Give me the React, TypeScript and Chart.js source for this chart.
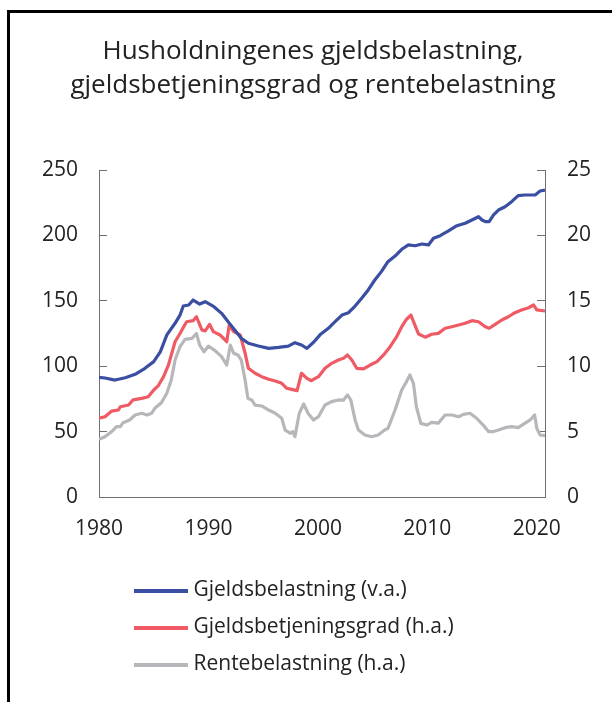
import React, { useEffect, useRef } from 'react';
import { Chart, registerables } from 'chart.js';

Chart.register(...registerables);

const titleLines = ['Husholdningenes gjeldsbelastning,', 'gjeldsbetjeningsgrad og rentebelastning'];
const seriesLabels = ['Gjeldsbelastning (v.a.)', 'Gjeldsbetjeningsgrad (h.a.)', 'Rentebelastning (h.a.)'];
const seriesColors = ['#3a4ea2', '#ef5a64', '#b7b7bb'];
const xTicks = [1980, 1990, 2000, 2010, 2020];
const leftTicks = [0, 50, 100, 150, 200, 250];
const rightTicks = [0, 5, 10, 15, 20, 25];

// Gjeldsbelastning (left axis, per cent)
const debtYears = [1980.0, 1980.55, 1981.46, 1982.4, 1983.3, 1984.2, 1985.0, 1985.6, 1986.2, 1986.95, 1987.4, 1987.7, 1988.2, 1988.6, 1989.2, 1989.7, 1990.5, 1991.2, 1991.8, 1992.4, 1993.0, 1993.65, 1994.56, 1995.5, 1996.4, 1997.3, 1997.9, 1998.5, 1999.0, 1999.65, 2000.25, 2000.96, 2001.57, 2002.2, 2002.8, 2003.4, 2004.0, 2004.6, 2005.2, 2005.8, 2006.4, 2007.05, 2007.66, 2008.27, 2008.88, 2009.5, 2010.1, 2010.56, 2011.17, 2011.93, 2012.7, 2013.46, 2014.07, 2014.67, 2015.0, 2015.3, 2015.65, 2016.05, 2016.5, 2017.1, 2017.7, 2018.3, 2018.9, 2019.4, 2019.85, 2020.3, 2020.75];
const debtValues = [91.5, 91, 89.4, 91.2, 93.8, 98.4, 103.5, 111, 124, 132.8, 139, 146, 146.8, 150.6, 147.5, 149.3, 145.5, 140.4, 134, 127.7, 121.3, 117.5, 115.4, 113.6, 114.4, 115.4, 118, 116.2, 113.6, 118.7, 124.5, 129, 134, 139.1, 140.9, 146, 151.9, 158.3, 165.9, 172.3, 179.9, 184.2, 189.4, 192.7, 192.1, 193.4, 192.7, 197.8, 199.8, 203.4, 207.4, 209.3, 211.8, 214.3, 211.8, 210.5, 210.5, 215.6, 219.4, 221.9, 225.8, 230.4, 230.9, 230.9, 230.9, 233.9, 234.7];

// Gjeldsbetjeningsgrad (right axis, per cent)
const serviceYears = [1980.0, 1980.55, 1981.16, 1981.76, 1981.95, 1982.7, 1983.1, 1983.9, 1984.5, 1985.0, 1985.4, 1985.9, 1986.35, 1986.95, 1987.4, 1988.0, 1988.6, 1988.9, 1989.4, 1989.7, 1990.1, 1990.45, 1991.06, 1991.67, 1991.9, 1992.3, 1992.9, 1993.35, 1993.65, 1994.26, 1994.87, 1995.5, 1996.1, 1996.7, 1997.15, 1997.6, 1998.1, 1998.5, 1999.0, 1999.4, 2000.05, 2000.65, 2001.26, 2001.87, 2002.33, 2002.7, 2003.1, 2003.55, 2004.16, 2004.77, 2005.4, 2006.0, 2006.6, 2007.2, 2007.66, 2008.1, 2008.5, 2008.8, 2009.2, 2009.8, 2010.4, 2011.0, 2011.63, 2012.24, 2012.85, 2013.46, 2014.07, 2014.67, 2015.3, 2015.65, 2016.2, 2016.8, 2017.4, 2018.0, 2018.6, 2019.25, 2019.7, 2020.0, 2020.75];
const serviceValues = [6.02, 6.14, 6.57, 6.65, 6.9, 7.03, 7.42, 7.54, 7.67, 8.18, 8.49, 9.2, 10.1, 11.87, 12.5, 13.4, 13.48, 13.78, 12.77, 12.7, 13.2, 12.64, 12.39, 11.87, 13.15, 12.64, 12.39, 10.99, 9.84, 9.46, 9.2, 9.0, 8.87, 8.69, 8.31, 8.23, 8.13, 9.46, 9.07, 8.89, 9.2, 9.84, 10.22, 10.47, 10.6, 10.86, 10.47, 9.84, 9.79, 10.09, 10.35, 10.86, 11.49, 12.26, 13.02, 13.59, 13.91, 13.28, 12.46, 12.22, 12.44, 12.51, 12.9, 13.02, 13.15, 13.28, 13.48, 13.4, 13.02, 12.9, 13.2, 13.53, 13.78, 14.09, 14.3, 14.47, 14.68, 14.3, 14.22];

// Rentebelastning (right axis, per cent)
const interestYears = [1980.0, 1980.55, 1981.16, 1981.6, 1981.95, 1982.2, 1982.8, 1983.3, 1983.9, 1984.4, 1984.8, 1985.1, 1985.7, 1986.2, 1986.6, 1986.95, 1987.4, 1987.86, 1988.5, 1988.9, 1989.2, 1989.6, 1990.0, 1990.6, 1991.2, 1991.67, 1992.0, 1992.3, 1992.7, 1993.0, 1993.35, 1993.6, 1993.95, 1994.26, 1994.87, 1995.5, 1996.1, 1996.7, 1997.0, 1997.5, 1997.7, 1997.9, 1998.3, 1998.7, 1999.1, 1999.6, 2000.05, 2000.65, 2001.26, 2001.87, 2002.33, 2002.7, 2003.0, 2003.4, 2003.7, 2004.3, 2004.9, 2005.5, 2006.1, 2006.4, 2007.05, 2007.66, 2008.1, 2008.4, 2008.73, 2009.0, 2009.4, 2009.95, 2010.4, 2011.0, 2011.63, 2012.24, 2012.85, 2013.3, 2013.9, 2014.5, 2015.1, 2015.6, 2016.05, 2016.5, 2017.1, 2017.7, 2018.3, 2018.9, 2019.4, 2019.8, 2020.0, 2020.3, 2020.75];
const interestValues = [4.41, 4.61, 5.0, 5.38, 5.38, 5.68, 5.89, 6.27, 6.4, 6.27, 6.4, 6.78, 7.21, 7.93, 8.94, 10.47, 11.49, 12.05, 12.13, 12.5, 11.62, 11.1, 11.54, 11.19, 10.73, 10.09, 11.62, 10.99, 10.86, 10.47, 8.94, 7.54, 7.42, 7.03, 6.96, 6.65, 6.4, 6.02, 5.12, 4.87, 5.0, 4.61, 6.4, 7.11, 6.4, 5.89, 6.14, 7.03, 7.29, 7.42, 7.4, 7.8, 7.42, 5.89, 5.12, 4.74, 4.61, 4.74, 5.12, 5.25, 6.65, 8.18, 8.82, 9.33, 8.69, 6.9, 5.63, 5.5, 5.71, 5.65, 6.27, 6.27, 6.14, 6.32, 6.4, 6.02, 5.5, 5.0, 5.0, 5.12, 5.3, 5.38, 5.3, 5.63, 5.89, 6.27, 5.25, 4.74, 4.69];

const FONT = "'Open Sans', 'Noto Sans', sans-serif";
const TEXT = '#222222';
const AXIS = '#707070';

function toPoints(xs: number[], ys: number[]) {
  return xs.map((x, i) => ({ x, y: ys[i] }));
}

function swatch(color: string) {
  const c = document.createElement('canvas');
  c.width = 54;
  c.height = 4;
  const g = c.getContext('2d');
  if (g) {
    g.fillStyle = color;
    g.fillRect(0, 0, 54, 4);
  }
  return c;
}

const shiftPlugin = {
  id: 'shiftBoxes',
  afterLayout(chart: any) {
    const lg = chart.legend;
    if (lg) {
      lg.left += 24;
      lg.right += 24;
    }
    const tb = chart.titleBlock;
    if (tb) {
      tb.left += 7;
      tb.right += 7;
    }
  },
};

export default function App() {
  const ref = useRef<HTMLCanvasElement | null>(null);

  useEffect(() => {
    if (!ref.current) return;
    const chart = new Chart(ref.current, {
      type: 'line',
      data: {
        datasets: [
          {
            label: seriesLabels[0],
            data: toPoints(debtYears, debtValues),
            borderColor: seriesColors[0],
            backgroundColor: seriesColors[0],
            borderWidth: 3.2,
            pointRadius: 0,
            tension: 0,
            borderJoinStyle: 'round',
            yAxisID: 'yLeft',
          },
          {
            label: seriesLabels[1],
            data: toPoints(serviceYears, serviceValues),
            borderColor: seriesColors[1],
            backgroundColor: seriesColors[1],
            borderWidth: 3.2,
            pointRadius: 0,
            tension: 0,
            borderJoinStyle: 'round',
            yAxisID: 'yRight',
          },
          {
            label: seriesLabels[2],
            data: toPoints(interestYears, interestValues),
            borderColor: seriesColors[2],
            backgroundColor: seriesColors[2],
            borderWidth: 3.2,
            pointRadius: 0,
            tension: 0,
            borderJoinStyle: 'round',
            yAxisID: 'yRight',
          },
        ],
      },
      options: {
        responsive: false,
        animation: false,
        devicePixelRatio: 1,
        layout: { padding: { left: 0, right: 0, top: 0, bottom: 17 } },
        plugins: {
          title: {
            display: true,
            text: titleLines,
            color: TEXT,
            font: { family: FONT, size: 26, weight: 'normal', lineHeight: '34px' },
            padding: { top: 35, bottom: 67 },
          },
          legend: {
            display: true,
            position: 'bottom',
            align: 'start',
            fullSize: false,
            labels: {
              usePointStyle: true,
              pointStyleWidth: 44,
              padding: 16,
              color: TEXT,
              font: { family: FONT, size: 21 },
              generateLabels: (c: any) =>
                c.data.datasets.map((ds: any, i: number) => ({
                  text: ds.label,
                  fillStyle: ds.borderColor,
                  strokeStyle: ds.borderColor,
                  lineWidth: 0,
                  pointStyle: swatch(ds.borderColor),
                  hidden: false,
                  datasetIndex: i,
                  fontColor: TEXT,
                })),
            },
          },
          tooltip: { enabled: false },
        },
        scales: {
          x: {
            type: 'linear',
            min: 1980,
            max: 2020.75,
            afterFit: (s: any) => {
              s.height = 67;
            },
            afterBuildTicks: (s: any) => {
              s.ticks = xTicks.map((v) => ({ value: v }));
            },
            ticks: {
              padding: 19,
              color: TEXT,
              font: { family: FONT, size: 21 },
              maxRotation: 0,
              autoSkip: false,
              callback: (v: any) => String(v),
            },
            grid: { display: false, drawTicks: false },
            border: { display: true, color: AXIS, width: 1 },
          },
          yLeft: {
            type: 'linear',
            position: 'left',
            min: 0,
            max: 250,
            afterFit: (s: any) => {
              s.width = 99;
            },
            afterBuildTicks: (s: any) => {
              s.ticks = leftTicks.map((v) => ({ value: v }));
            },
            ticks: {
              padding: 29,
              color: TEXT,
              font: { family: FONT, size: 21 },
              callback: (v: any) => String(v),
            },
            grid: { display: true, drawOnChartArea: false, drawTicks: true, tickLength: -8, color: AXIS, lineWidth: 1 },
            border: { display: true, color: AXIS, width: 1 },
          },
          yRight: {
            type: 'linear',
            position: 'right',
            min: 0,
            max: 25,
            afterFit: (s: any) => {
              s.width = 67;
            },
            afterBuildTicks: (s: any) => {
              s.ticks = rightTicks.map((v) => ({ value: v }));
            },
            ticks: {
              padding: 30,
              color: TEXT,
              font: { family: FONT, size: 21 },
              callback: (v: any) => String(v),
            },
            grid: { display: true, drawOnChartArea: false, drawTicks: true, tickLength: -8, color: AXIS, lineWidth: 1 },
            border: { display: true, color: AXIS, width: 1 },
          },
        },
      },
      plugins: [shiftPlugin],
    } as any);
    return () => chart.destroy();
  }, []);

  return (
    <div
      style={{
        position: 'fixed',
        left: 0,
        top: 0,
        width: 612,
        height: 702,
        overflow: 'hidden',
        background: '#ffffff',
      }}
    >
      <div
        style={{
          position: 'absolute',
          left: 7,
          top: 10,
          width: 700,
          height: 800,
          border: '3px solid #000000',
          boxSizing: 'border-box',
        }}
      />
      <canvas
        ref={ref}
        width={612}
        height={702}
        style={{ position: 'absolute', left: 0, top: 0, width: 612, height: 702 }}
      />
    </div>
  );
}
